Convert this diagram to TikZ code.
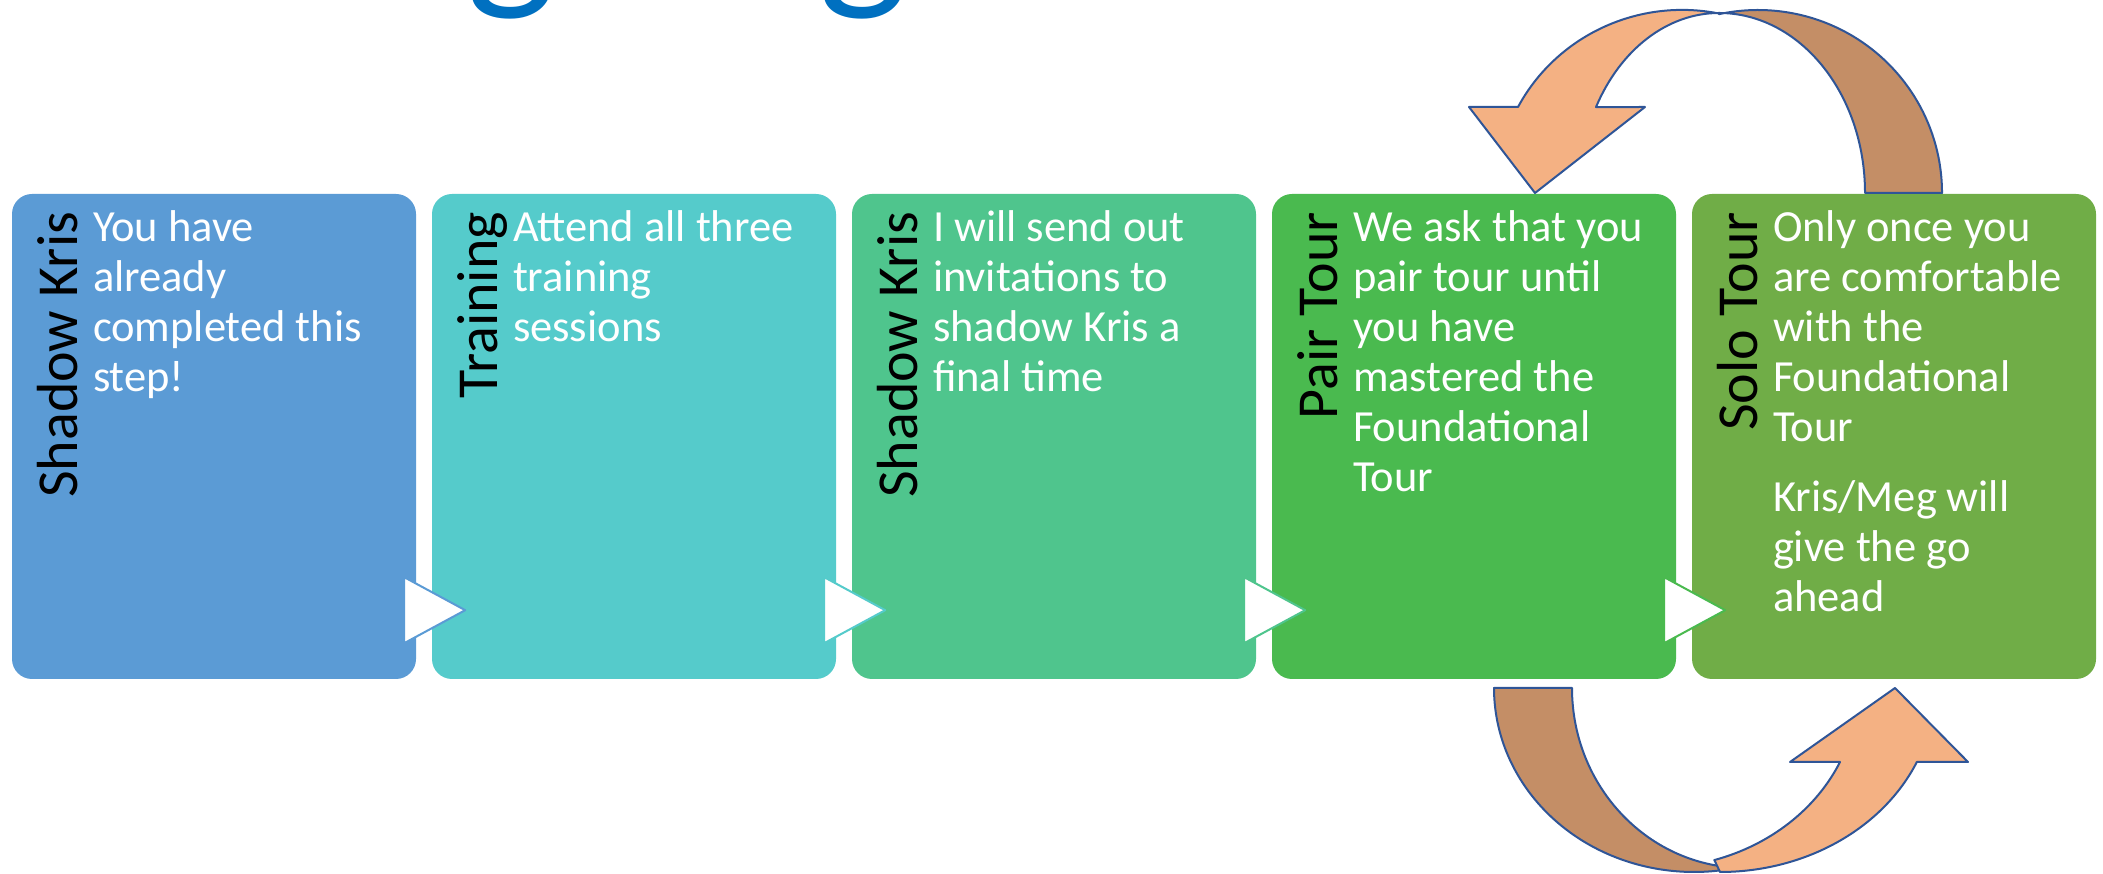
\documentclass[tikz,border=0pt]{standalone}
\usepackage{fontspec}
\setmainfont{Carlito}
\usepackage{tikz}
\definecolor{stepA}{HTML}{5B9BD5}
\definecolor{stepB}{HTML}{55CBCB}
\definecolor{stepC}{HTML}{4FC58D}
\definecolor{stepD}{HTML}{4ABA4F}
\definecolor{stepE}{HTML}{70AD47}
\definecolor{curldark}{HTML}{C48E66}
\definecolor{curllight}{HTML}{F4B183}
\definecolor{curlline}{HTML}{2F5597}
\definecolor{titleblue}{HTML}{0070C0}

\begin{document}
\begin{tikzpicture}[x=1pt,y=1pt,
    stepbox/.style={minimum width=404pt,minimum height=485pt,rounded corners=20pt,inner sep=0pt},
    steptitle/.style={rotate=90,anchor=base east,inner sep=0pt,font=\fontsize{58}{60}\selectfont},
    steptext/.style={anchor=north west,inner sep=0pt,align=left,text=white,font=\fontsize{44.5}{50}\selectfont},
    chevron/.style={fill=white,line width=2pt,line join=round},
    curl/.style={draw=curlline,line width=2pt,line join=round}]
        \useasboundingbox (0,0) rectangle (2103,874);
        % what is left of the heading
        \begin{scope}
          \clip (0,0) rectangle (2103,874);
          \node[inner sep=0pt,anchor=base,text=titleblue,font=\fontsize{190}{190}\selectfont] (g1) at (511,887) {g};
          \node[inner sep=0pt,anchor=base,text=titleblue,font=\fontsize{190}{190}\selectfont] (g2) at (863,887) {g};
        \end{scope}
        % the five steps
        \foreach \i/\c in {1/stepA,2/stepB,3/stepC,4/stepD,5/stepE}
          \node[stepbox,fill=\c] (b\i) at ({214+420*(\i-1)},437.5) {};
        \foreach \i/\t in {1/Shadow Kris,2/Training,3/Shadow Kris,4/Pair Tour,5/Solo Tour}
          \node[steptitle] (t\i) at ([xshift=66pt,yshift=-18pt]b\i.north west) {\t};
        \node[steptext] (d1) at ([xshift=81pt,yshift=-13pt]b1.north west)
            {\strut You have\\already\\completed this\\step!};
        \node[steptext] (d2) at ([xshift=81pt,yshift=-13pt]b2.north west)
            {\strut Attend all three\\training\\sessions};
        \node[steptext] (d3) at ([xshift=81pt,yshift=-13pt]b3.north west)
            {\strut I will send out\\invitations to\\shadow Kris a\\final time};
        \node[steptext] (d4) at ([xshift=81pt,yshift=-13pt]b4.north west)
            {\strut We ask that you\\pair tour until\\you have\\mastered the\\Foundational\\Tour};
        \node[steptext] (d5) at ([xshift=81pt,yshift=-13pt]b5.north west)
            {\strut Only once you\\are comfortable\\with the\\Foundational\\Tour\\[20pt]Kris/Meg will\\give the go\\ahead};
        % chevrons between the steps
        \foreach \i/\c in {1/stepA,2/stepB,3/stepC,4/stepD}
          \filldraw[chevron,draw=\c] ([shift={(-12,102)}]b\i.south east)
              -- ([shift={(49,69)}]b\i.south east)
              -- ([shift={(-12,36)}]b\i.south east) -- cycle;
        % upper loop, solo tour back to pair tour
        \filldraw[curl,fill=curldark] (1865,681) -- (1942,681)
            arc[start angle=0,end angle=102.2,x radius=184,y radius=183]
            -- (1719,861) arc[start angle=90,end angle=0,x radius=146,y radius=180] -- cycle;
        \filldraw[curl,fill=curllight] (1518,767)
            arc[start angle=152,end angle=78.5,x radius=186,y radius=183]
            -- (1719,861) arc[start angle=90,end angle=151.5,x radius=140,y radius=180]
            -- (1645,767) -- (1535,681) -- (1469,767) -- cycle;
        % lower loop, pair tour on to solo tour
        \filldraw[curl,fill=curldark] (1572,186) -- (1494,186)
            arc[start angle=180,end angle=283,x radius=200,y radius=184]
            -- (1745,6) arc[start angle=270,end angle=180,x radius=173,y radius=180] -- cycle;
        \filldraw[curl,fill=curllight] (1720,2)
            arc[start angle=270,end angle=336.3,x radius=215,y radius=184]
            -- (1968,112) -- (1895,186) -- (1790,112) -- (1840,112)
            arc[start angle=335.7,end angle=287,x radius=203,y radius=180] -- cycle;
\end{tikzpicture}
\end{document}
